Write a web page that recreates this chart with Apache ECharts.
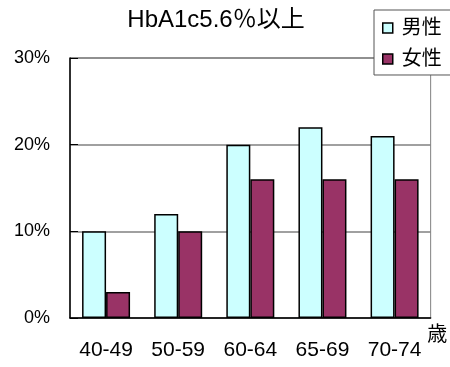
<!DOCTYPE html>
<html><head><meta charset="utf-8">
<script src="https://cdn.jsdelivr.net/npm/echarts@6/dist/echarts.min.js"></script>
<style>html,body{margin:0;padding:0;background:#fff}#c{width:450px;height:367px}</style>
</head><body><div id="c"></div>
<script>
const categories = ['40-49','50-59','60-64','65-69','70-74'];
const male = [10, 12, 20, 22, 21];
const female = [3, 10, 16, 16, 16];
const yTicks = [0, 10, 20, 30];
const FONT = '"Liberation Sans", "Noto Sans CJK JP", sans-serif';
const chart = echarts.init(document.getElementById('c'));
chart.setOption({
  animation: false,
  backgroundColor: '#fff',
  title: { text: 'HbA1c5.6％以上', left: 211, top: 3, textAlign: 'center',
    textStyle: { fontFamily: FONT, fontSize: 24, fontWeight: 'normal', color: '#000' } },
  legend: { orient: 'vertical', left: 374, top: 10, padding: [8, 10, 6, 8], itemGap: 11,
    backgroundColor: '#fff', borderColor: '#555', borderWidth: 1, borderRadius: 0,
    itemWidth: 10, itemHeight: 10, icon: 'rect',
    textStyle: { fontFamily: FONT, fontSize: 20, color: '#000', padding: [0,0,0,4] },
    data: [{name:'男性', itemStyle:{borderColor:'#000', borderWidth:1.5}}, {name:'女性', itemStyle:{borderColor:'#000', borderWidth:1.5}}] },
  grid: { left: 70, right: 16, top: 58, bottom: 49, show: true, borderColor: '#808080', borderWidth: 1, backgroundColor: 'transparent' },
  xAxis: { type: 'category', data: categories,
    name: '歳', nameLocation: 'end', nameGap: 3,
    nameTextStyle: { fontFamily: FONT, fontSize: 20, color: '#000', align: 'center', verticalAlign: 'top', padding: [7,0,0,0] },
    axisLine: { lineStyle: { color: '#000', width: 1.5 } },
    axisTick: { inside: true, length: 7, lineStyle: { color: '#000' } },
    axisLabel: { interval: 0, hideOverlap: false, fontFamily: FONT, fontSize: 21, color: '#000', margin: 22 } },
  yAxis: { type: 'value', min: 0, max: 30, interval: 10,
    axisLine: { show: true, lineStyle: { color: '#000', width: 1.5 } },
    axisTick: { show: true, inside: true, length: 8, lineStyle: { color: '#000' } },
    splitLine: { lineStyle: { color: '#808080', width: 1.5 } },
    axisLabel: { fontFamily: FONT, fontSize: 18, color: '#000', margin: 20, formatter: v => yTicks.includes(v) ? v + '%' : '' } },
  series: [
    { name: '男性', type: 'bar', data: male, barWidth: 24, barGap: '0%',
      itemStyle: { color: '#CCFFFF', borderColor: '#000', borderWidth: 1.5 } },
    { name: '女性', type: 'bar', data: female, barWidth: 24, barGap: '0%',
      itemStyle: { color: '#993366', borderColor: '#000', borderWidth: 1.5 } }
  ]
});
</script></body></html>
